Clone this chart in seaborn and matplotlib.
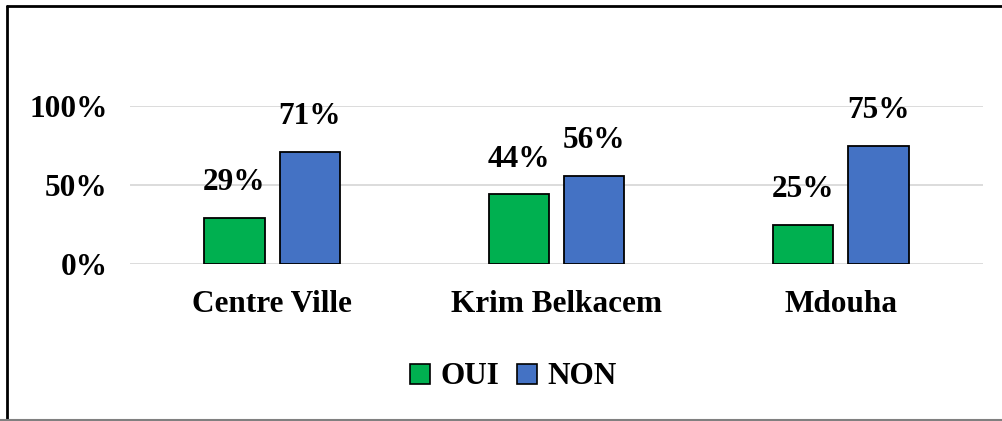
import pandas as pd
import numpy as np
import matplotlib.pyplot as plt
import seaborn as sns
from matplotlib.lines import Line2D

# data
quartiers = ["Centre Ville", "Krim Belkacem", "Mdouha"]
reponses = ["OUI", "NON"]
oui = [29, 44, 25]
non = [71, 56, 75]

df = pd.DataFrame({
    "quartier": quartiers * 2,
    "reponse": ["OUI"] * 3 + ["NON"] * 3,
    "val": [v / 100 for v in oui + non],
})

sns.set_theme(style="white")
plt.rcParams["font.family"] = ["Liberation Serif", "DejaVu Serif"]
plt.rcParams["font.weight"] = "bold"
plt.rcParams["text.color"] = "black"
plt.rcParams["xtick.color"] = "black"
plt.rcParams["ytick.color"] = "black"

FS = 22.5

fig = plt.figure(figsize=(10.03, 4.21), dpi=100)
ax = fig.add_axes([130 / 1003, 157 / 421, 853 / 1003, 158 / 421])

palette = {"OUI": "#00B050", "NON": "#4472C4"}
sns.barplot(
    data=df, x="quartier", y="val", hue="reponse",
    order=quartiers, hue_order=reponses, palette=palette, saturation=1,
    width=0.53, gap=0.2, edgecolor="black", linewidth=1.3,
    ax=ax,
)

ax.set_ylim(0, 1)
ax.set_yticks([0, 0.5, 1.0])
ax.set_yticklabels(["0%", "50%", "100%"])
ax.grid(axis="y", color="#d9d9d9", linewidth=1.3)
ax.set_axisbelow(True)
for s in ax.spines.values():
    s.set_visible(False)
ax.tick_params(axis="y", length=0, pad=16, labelsize=FS, labelcolor="black")
ax.tick_params(axis="x", length=0, pad=19, labelsize=FS, labelcolor="black")
for lbl in ax.get_xticklabels() + ax.get_yticklabels():
    lbl.set_fontweight("bold")
ax.set_xlabel("")
ax.set_ylabel("")

# data labels
for container in ax.containers:
    ax.bar_label(
        container,
        labels=[f"{v.get_height() * 100:.0f}%" for v in container],
        padding=15, fontsize=FS, fontweight="bold", color="black", clip_on=False,
    )

# legend
ax.legend_.remove()
handles = [
    Line2D([], [], marker="s", linestyle="none", markersize=15,
           markerfacecolor=palette[r], markeredgecolor="black", markeredgewidth=1.2)
    for r in reponses
]
fig.legend(
    handles, reponses, loc="center", bbox_to_anchor=(509 / 1003, 1 - 377 / 421),
    ncol=2, frameon=False, handletextpad=0.05, columnspacing=0.3,
    handlelength=1.2, prop={"size": FS, "weight": "bold"},
)

# frame of the chart (cropped screenshot style)
fig.add_artist(Line2D([7 / 1003, 7 / 1003], [1 - 6 / 421, 1 - 419 / 421],
                      color="black", linewidth=2, transform=fig.transFigure))
fig.add_artist(Line2D([7 / 1003, 1], [1 - 6 / 421, 1 - 6 / 421],
                      color="black", linewidth=2, transform=fig.transFigure))
fig.add_artist(Line2D([0, 1], [1 - 420 / 421, 1 - 420 / 421],
                      color="#808080", linewidth=1.5, transform=fig.transFigure))

fig.savefig("out.png", dpi=100)
